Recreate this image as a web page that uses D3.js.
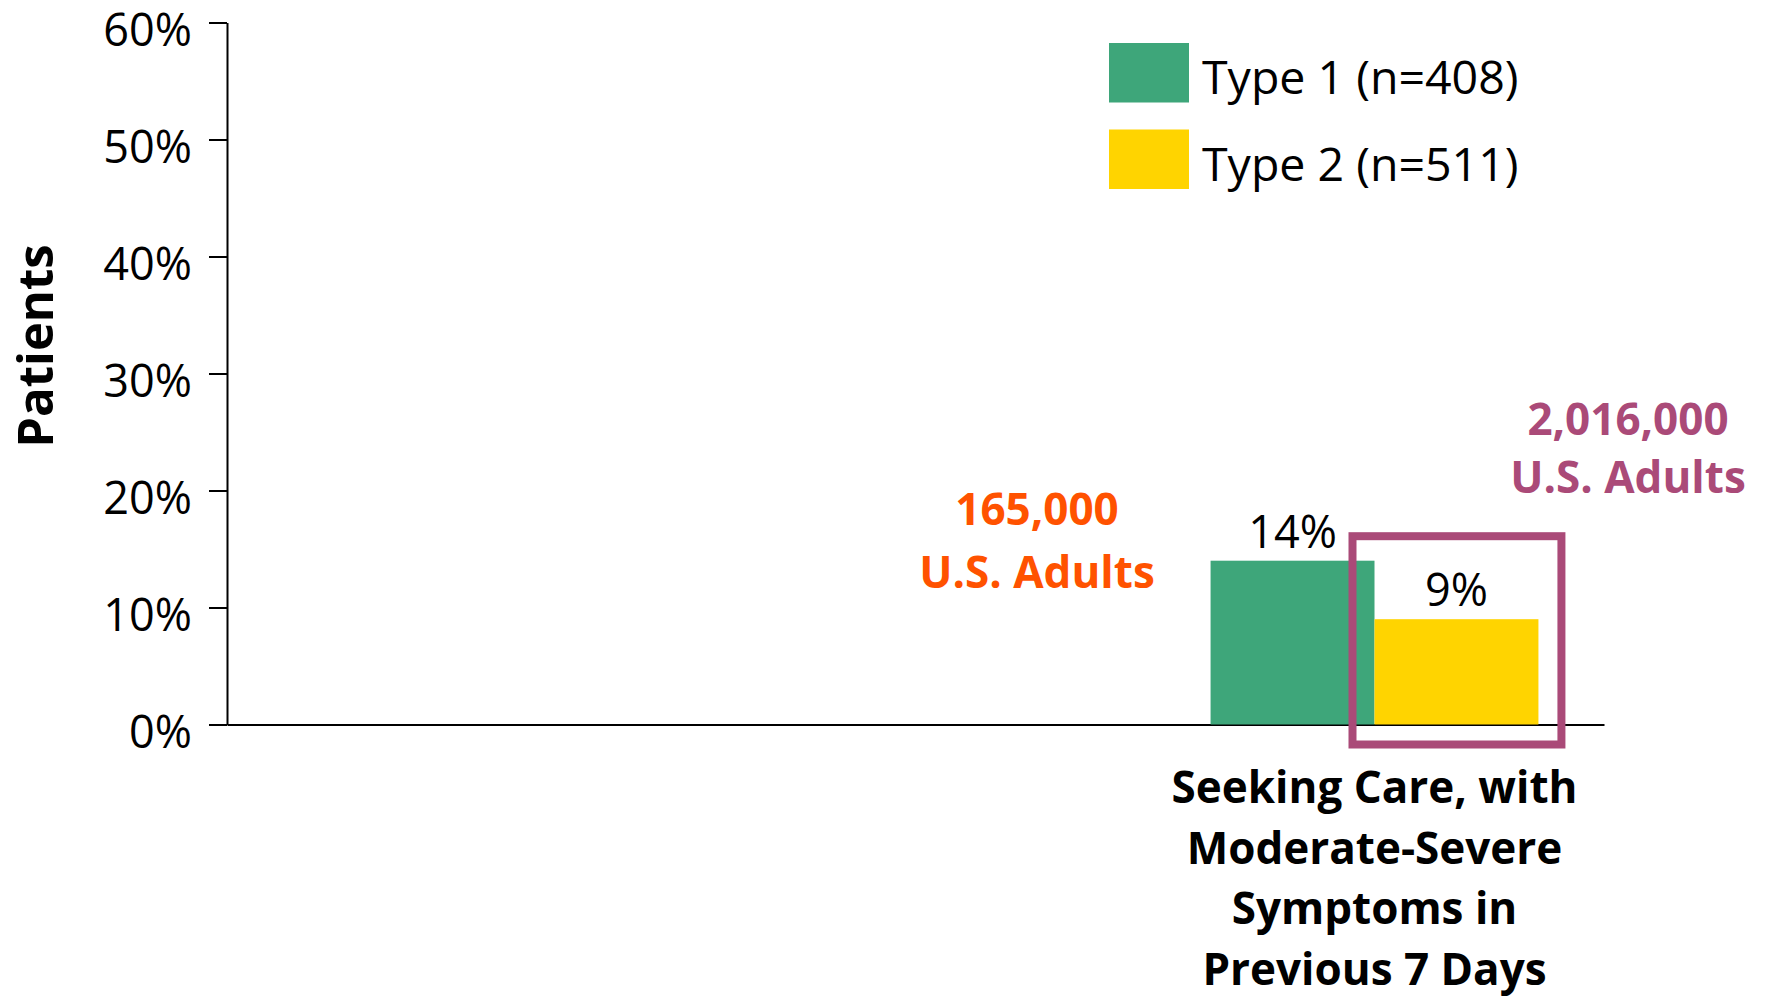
<!DOCTYPE html>
<html>
<head>
<meta charset="utf-8">
<script src="https://cdn.jsdelivr.net/npm/d3@7"></script>
<style>
  html, body { margin: 0; padding: 0; background: #fff; }
  svg { display: block; font-family: "Open Sans", "Noto Sans", sans-serif; }
</style>
</head>
<body>
<svg id="chart" width="1765" height="999"></svg>
<script>
// ---- data ----
const categories = ["slot1", "slot2", "Seeking Care"];
const categoryLines = [[], [], ["Seeking Care, with", "Moderate-Severe", "Symptoms in", "Previous 7 Days"]];
const seriesNames = ["Type 1 (n=408)", "Type 2 (n=511)"];
const type1Values = [null, null, 0.14];
const type2Values = [null, null, 0.09];
const valueLabels1 = [null, null, "14%"];
const valueLabels2 = [null, null, "9%"];
const yTicks = [0, 0.1, 0.2, 0.3, 0.4, 0.5, 0.6];
const yAxisTitle = "Patients";
const annotation1 = ["165,000", "U.S. Adults"];
const annotation2 = ["2,016,000", "U.S. Adults"];

const colors = ["#3EA67A", "#FFD400"];
const purple = "#AA4A78";
const orange = "#FF5200";

// ---- layout ----
const svg = d3.select("#chart");
const plotLeft = 227, plotRight = 1604, plotTop = 22.5, plotBottom = 724.5;

const y = d3.scaleLinear().domain([0, 0.6]).range([plotBottom, plotTop]);
const x0 = d3.scaleBand().domain(categories).range([plotLeft, plotRight]).paddingInner(0).paddingOuter(0);
const x1 = d3.scaleBand().domain(seriesNames).range([0, x0.bandwidth()]).paddingInner(0).paddingOuter(0.4);

// y axis
const yAxis = d3.axisLeft(y).tickValues(yTicks).tickFormat(d3.format(".0%"))
  .tickSize(18).tickSizeOuter(0).tickPadding(17);
const gy = svg.append("g").attr("transform", `translate(${plotLeft},0)`).call(yAxis);
gy.select(".domain").attr("stroke", "#000").attr("stroke-width", 2);
gy.selectAll(".tick line").attr("stroke", "#000").attr("stroke-width", 2);
gy.selectAll(".tick text").attr("font-size", 45).attr("fill", "#000")
  .attr("dy", "0.5em").attr("font-family", '"Open Sans", sans-serif');

// x axis
const xAxis = d3.axisBottom(x0).tickSize(0).tickSizeOuter(0).tickFormat("");
const gx = svg.append("g").attr("transform", `translate(0,${plotBottom})`).call(xAxis);
gx.select(".domain").attr("stroke", "#000").attr("stroke-width", 2);

// bars
const rows = categories.map((c, i) => ({ c, i, vals: [type1Values[i], type2Values[i]], labs: [valueLabels1[i], valueLabels2[i]] }));
const groups = svg.append("g").selectAll("g").data(rows).join("g")
  .attr("transform", d => `translate(${x0(d.c)},0)`);

groups.selectAll("rect").data(d => d.vals.map((v, k) => ({ v, k, lab: d.labs[k] })).filter(e => e.v != null))
  .join("rect")
  .attr("x", e => x1(seriesNames[e.k]))
  .attr("width", x1.bandwidth())
  .attr("y", e => y(e.v))
  .attr("height", e => y(0) - y(e.v))
  .attr("fill", e => colors[e.k]);

groups.selectAll("text.val").data(d => d.vals.map((v, k) => ({ v, k, lab: d.labs[k] })).filter(e => e.v != null))
  .join("text").attr("class", "val")
  .attr("x", e => x1(seriesNames[e.k]) + x1.bandwidth() / 2)
  .attr("y", e => y(e.v) - 13)
  .attr("text-anchor", "middle")
  .attr("font-size", 45)
  .attr("fill", "#000")
  .text(e => e.lab);

// category labels
rows.forEach(d => {
  const cx = x0(d.c) + x0.bandwidth() / 2;
  categoryLines[d.i].forEach((line, j) => {
    svg.append("text")
      .attr("x", cx).attr("y", 803 + j * 60.5)
      .attr("text-anchor", "middle")
      .attr("font-size", 44).attr("font-weight", 700)
      .attr("fill", "#000")
      .text(line);
  });
});

// highlight box around Type 2 bar of last category
const lastCat = categories[2];
const bx = x0(lastCat) + x1(seriesNames[1]);
const bw = x1.bandwidth();
svg.append("rect")
  .attr("x", bx - 22).attr("y", y(type2Values[2]) - 83)
  .attr("width", bw + 45).attr("height", (y(0) + 20) - (y(type2Values[2]) - 83))
  .attr("fill", "none").attr("stroke", purple).attr("stroke-width", 8);

// annotations
annotation1.forEach((t, j) => {
  svg.append("text").attr("x", 1037).attr("y", 525 + j * 63)
    .attr("text-anchor", "middle").attr("font-size", 44).attr("font-weight", 700)
    .attr("fill", orange).text(t);
});
annotation2.forEach((t, j) => {
  svg.append("text").attr("x", 1628).attr("y", 435 + j * 58)
    .attr("text-anchor", "middle").attr("font-size", 44).attr("font-weight", 700)
    .attr("fill", purple).text(t);
});

// y axis title
svg.append("text")
  .attr("transform", `translate(53,346) rotate(-90)`)
  .attr("text-anchor", "middle")
  .attr("font-size", 49).attr("font-weight", 700)
  .attr("fill", "#000")
  .text(yAxisTitle);

// legend
const legend = svg.append("g");
seriesNames.forEach((s, k) => {
  legend.append("rect").attr("x", 1109).attr("y", 43 + k * 86.5)
    .attr("width", 80).attr("height", 59.5).attr("fill", colors[k]);
  legend.append("text").attr("x", 1202).attr("y", 94 + k * 87)
    .attr("font-size", 46.5).attr("fill", "#000").text(s);
});
</script>
</body>
</html>
